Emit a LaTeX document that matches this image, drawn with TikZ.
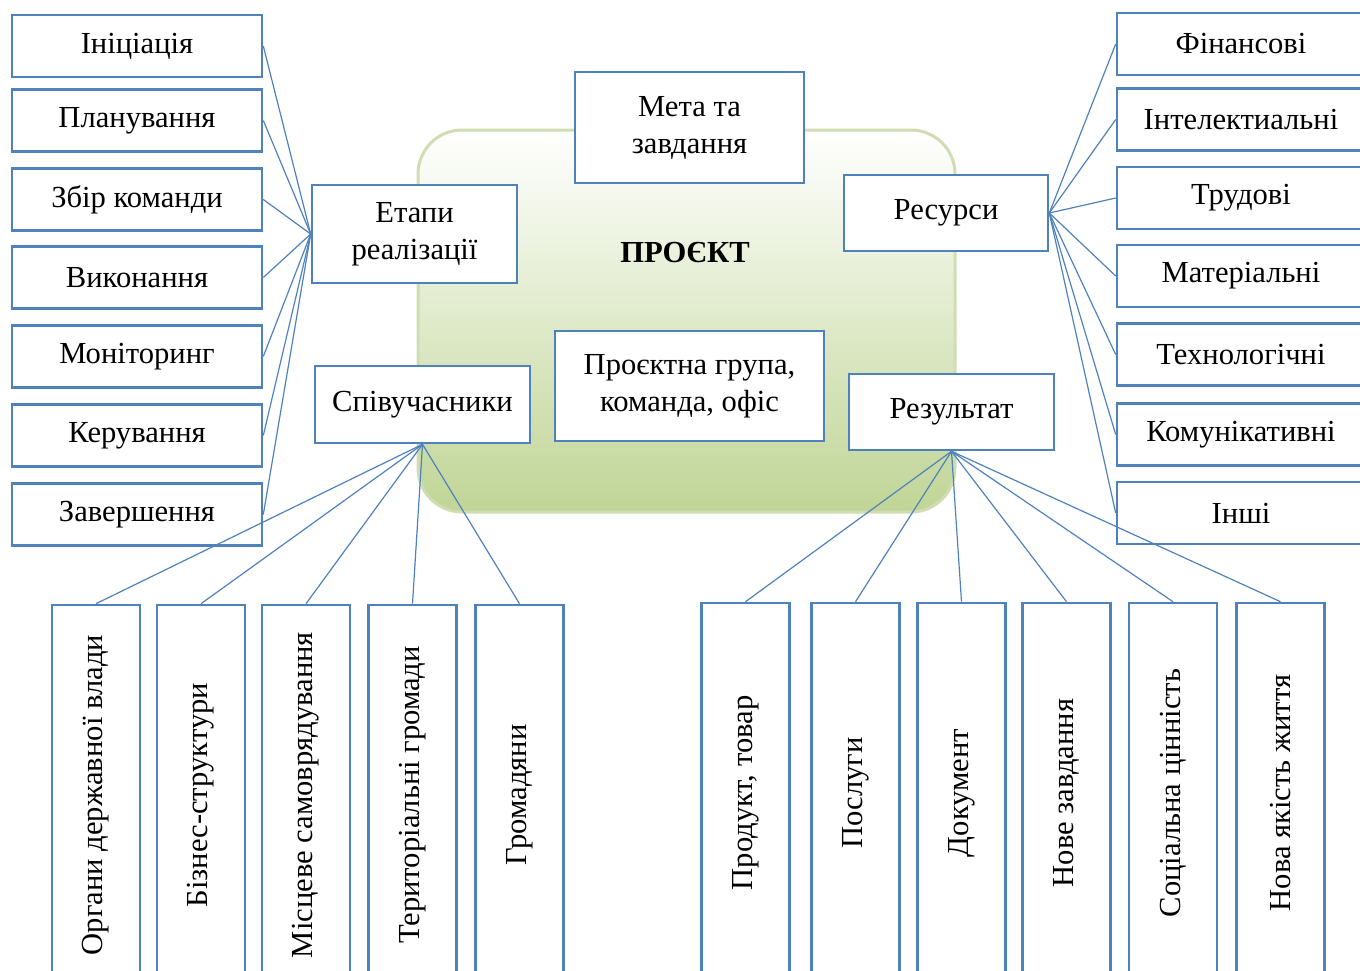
\documentclass[tikz,border=0pt]{standalone}
\usepackage{fontspec}
\setmainfont{Liberation Serif}
\usepackage{tikz}

\definecolor{boxblue}{RGB}{79,129,189}
\definecolor{projgreen}{RGB}{192,213,150}
\definecolor{projedge}{RGB}{208,221,178}

\tikzset{
  box/.style={draw=boxblue, line width=1.3pt, fill=white, align=center, inner sep=2pt},
  stagebox/.style={box, minimum width=125pt, minimum height=31pt},
  resbox/.style={box, minimum width=124pt, minimum height=31pt},
  vbox/.style={box, rotate=90, minimum width=190pt, minimum height=44pt},
  link/.style={draw=boxblue, line width=0.6pt},
}

\begin{document}
\begin{tikzpicture}[x=0.5pt, y=-0.5pt, font=\fontsize{15.3}{18.5}\selectfont]
  \useasboundingbox (0,0) rectangle (1360,970);
  \clip (0,0) rectangle (1360,970);

  % the project itself
  \draw[projedge, line width=1.5pt, rounded corners=22pt,
    top color=white, bottom color=projgreen] (418,130) rectangle (955,512);
  \node (proj) at (685,253) {\textbf{ПРОЄКТ}};

  % stages
  \node[stagebox] (init) at (137,46) {Ініціація};
  \node[stagebox] (plan) at (137,120.5) {Планування};
  \node[stagebox] (team) at (137,199.5) {Збір команди};
  \node[stagebox] (exec) at (137,277.5) {Виконання};
  \node[stagebox] (moni) at (137,356.5) {Моніторинг};
  \node[stagebox] (ctrl) at (137,435.5) {Керування};
  \node[stagebox] (fin) at (137,514.5) {Завершення};

  % resources
  \node[resbox] (money) at (1241,44) {Фінансові};
  \node[resbox] (intel) at (1241,119.5) {Інтелектиальні};
  \node[resbox] (labour) at (1241,198) {Трудові};
  \node[resbox] (mater) at (1241,276) {Матеріальні};
  \node[resbox] (tech) at (1241,354.5) {Технологічні};
  \node[resbox] (comm) at (1241,434.5) {Комунікативні};
  \node[resbox] (other) at (1241,513) {Інші};

  % inner boxes
  \node[box, minimum width=102.5pt, minimum height=49pt] (stages) at (414.5,234) {Етапи\\реалізації};
  \node[box, minimum width=114.5pt, minimum height=55.5pt] (goal) at (689.5,127.5) {Мета та\\завдання};
  \node[box, minimum width=102pt, minimum height=38pt] (res) at (946,213) {Ресурси};
  \node[box, minimum width=134.5pt, minimum height=55pt] (group) at (689.5,386) {Проєктна група,\\команда, офіс};
  \node[box, minimum width=107.5pt, minimum height=38.5pt] (part) at (422.5,404.5) {Співучасники};
  \node[box, minimum width=102.5pt, minimum height=38pt] (result) at (951.5,412) {Результат};

  \draw[link] (init.east) -- (stages.west);
  \draw[link] (plan.east) -- (stages.west);
  \draw[link] (team.east) -- (stages.west);
  \draw[link] (exec.east) -- (stages.west);
  \draw[link] (moni.east) -- (stages.west);
  \draw[link] (ctrl.east) -- (stages.west);
  \draw[link] (fin.east) -- (stages.west);

  \draw[link] (res.east) -- (money.west);
  \draw[link] (res.east) -- (intel.west);
  \draw[link] (res.east) -- (labour.west);
  \draw[link] (res.east) -- (mater.west);
  \draw[link] (res.east) -- (tech.west);
  \draw[link] (res.east) -- (comm.west);
  \draw[link] (res.east) -- (other.west);

  % participants (rotated, so .east is the top side)
  \node[vbox] (gov) at (96,795) {Органи державної влади};
  \node[vbox] (biz) at (201,795) {Бізнес-структури};
  \node[vbox] (local) at (306,795) {Місцеве самоврядування};
  \node[vbox] (terr) at (412.5,795) {Територіальні громади};
  \node[vbox] (cit) at (519.5,795) {Громадяни};

  \draw[link] (part.south) -- (gov.east);
  \draw[link] (part.south) -- (biz.east);
  \draw[link] (part.south) -- (local.east);
  \draw[link] (part.south) -- (terr.east);
  \draw[link] (part.south) -- (cit.east);

  % results
  \node[vbox] (prod) at (745.5,793) {Продукт, товар};
  \node[vbox] (serv) at (855.5,793) {Послуги};
  \node[vbox] (doc) at (961.5,793) {Документ};
  \node[vbox] (task) at (1066.5,793) {Нове завдання};
  \node[vbox] (soc) at (1173,793) {Соціальна цінність};
  \node[vbox] (life) at (1280.5,793) {Нова якість життя};

  \draw[link] (result.south) -- (prod.east);
  \draw[link] (result.south) -- (serv.east);
  \draw[link] (result.south) -- (doc.east);
  \draw[link] (result.south) -- (task.east);
  \draw[link] (result.south) -- (soc.east);
  \draw[link] (result.south) -- (life.east);
\end{tikzpicture}
\end{document}
